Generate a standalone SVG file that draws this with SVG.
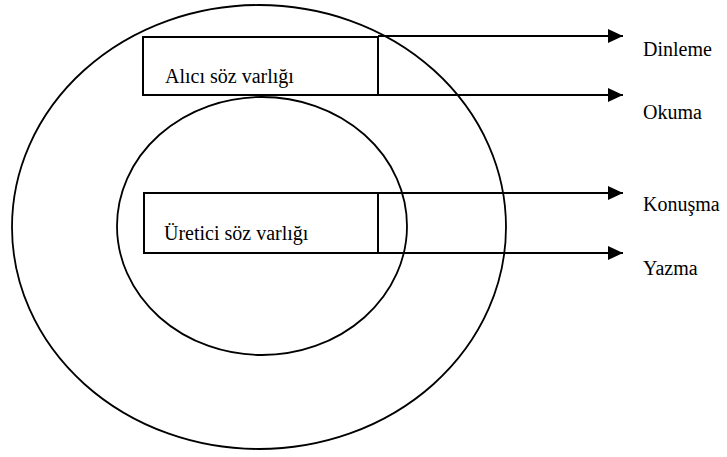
<svg xmlns="http://www.w3.org/2000/svg" width="727" height="457" viewBox="0 0 727 457">
<defs>
<style>
.ell{fill:none;stroke:#000;stroke-width:1.8}
.box{fill:#fff;stroke:#000;stroke-width:2}
.ln{fill:none;stroke:#000;stroke-width:2}
.t{font-family:"Liberation Serif","Times New Roman",serif;font-size:20px;fill:#000}
</style>
<marker id="ah" markerWidth="16" markerHeight="14" refX="15" refY="7" orient="auto" markerUnits="userSpaceOnUse">
<path d="M0,0 L15,7 L0,14 Z" fill="#000"/>
</marker>
</defs>
<g id="outer"><ellipse class="ell" cx="259" cy="227" rx="247" ry="222"/></g>
<g id="inner"><ellipse class="ell" cx="262" cy="226" rx="145" ry="129"/></g>
<g id="alici">
<rect class="box" x="143" y="37" width="235" height="58"/>
<text class="t" font-family="Liberation Serif, serif" x="165" y="83">Alıcı söz varlığı</text>
</g>
<g id="uretici">
<rect class="box" x="144" y="193" width="234" height="60"/>
<text class="t" font-family="Liberation Serif, serif" x="164" y="240">Üretici söz varlığı</text>
</g>
<g id="connectors">
<path class="ln" d="M378,36 H623" marker-end="url(#ah)"/>
<path class="ln" d="M378,95 H623" marker-end="url(#ah)"/>
<path class="ln" d="M378,193 H623" marker-end="url(#ah)"/>
<path class="ln" d="M378,253 H623" marker-end="url(#ah)"/>
</g>
<g id="labels">
<text class="t" font-family="Liberation Serif, serif" x="643" y="56">Dinleme</text>
<text class="t" font-family="Liberation Serif, serif" x="643" y="119">Okuma</text>
<text class="t" font-family="Liberation Serif, serif" x="643" y="211">Konuşma</text>
<text class="t" font-family="Liberation Serif, serif" x="643" y="275">Yazma</text>
</g>
</svg>
